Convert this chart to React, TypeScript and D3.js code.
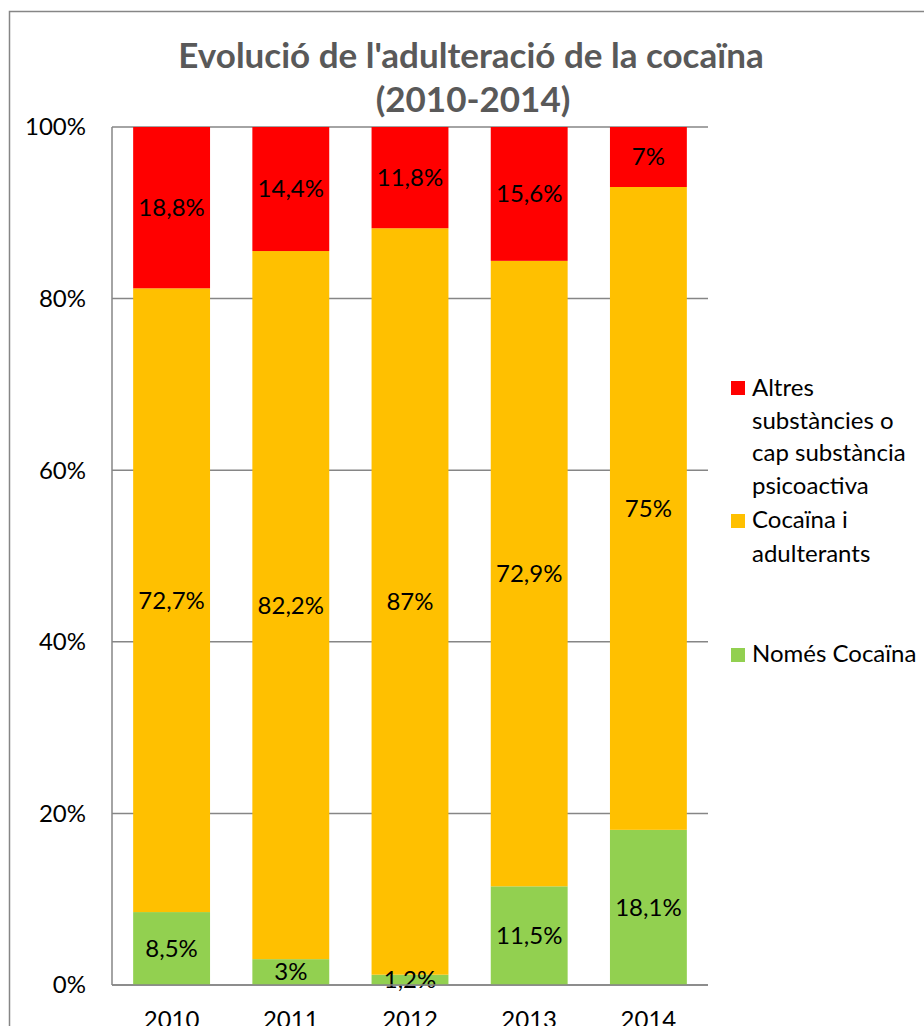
import * as d3 from 'd3';

// chart data
const years = ['2010', '2011', '2012', '2013', '2014'];
const nomesCocaina = [8.5, 3, 1.2, 11.5, 18.1];
const cocainaAdulterants = [72.7, 82.2, 87, 72.9, 75];
const altres = [18.8, 14.4, 11.8, 15.6, 7];
const yTicks = [0, 20, 40, 60, 80, 100];

const seriesNames = ['Només Cocaïna', 'Cocaïna i adulterants', 'Altres substàncies o cap substància psicoactiva'];
const seriesColors = ['#92d050', '#ffc000', '#ff0000'];

const fmt = (v: number) => String(v).replace('.', ',') + '%';

const App = () => {
  const W = 924;
  const H = 1026;
  const margin = { left: 112, top: 127, right: 708, bottom: 985 };
  const font = 'Lato, Calibri, Carlito, sans-serif';
  const fs = 24;

  const x = d3.scaleBand().domain(years).range([margin.left, margin.right]).paddingInner(0.355).paddingOuter(0.1775);
  const y = d3.scaleLinear().domain([0, 100]).range([margin.bottom, margin.top]);

  // percent-stacked, like the original
  const table = years.map((yr, i) => {
    const vals = [nomesCocaina[i], cocainaAdulterants[i], altres[i]];
    const total = d3.sum(vals);
    return { year: yr, n0: (vals[0] / total) * 100, n1: (vals[1] / total) * 100, n2: (vals[2] / total) * 100 };
  });
  const stack = d3.stack<any>().keys(['n0', 'n1', 'n2'])(table);
  const raws = [nomesCocaina, cocainaAdulterants, altres];

  return (
    <svg width={W} height={H} style={{ display: 'block', position: 'absolute', left: 0, top: 0 }}>
      <rect x={0} y={0} width={W} height={H} fill="#fff" />
      <rect x={9.5} y={11.5} width={W + 20} height={H + 20} fill="none" stroke="#868686" strokeWidth={1.5} />
      <text x={471} y={68} textAnchor="middle" fontFamily={font} fontWeight="bold" fontSize={35} fill="#595959">
        Evolució de l'adulteració de la cocaïna
      </text>
      <text x={473} y={112} textAnchor="middle" fontFamily={font} fontWeight="bold" fontSize={35} fill="#595959">
        (2010-2014)
      </text>
      {/* gridlines */}
      {yTicks.map((t) => (
        <line key={t} x1={margin.left} x2={margin.right} y1={y(t)} y2={y(t)} stroke="#868686" strokeWidth={1.5} />
      ))}
      {yTicks.map((t) => (
        <text key={'l' + t} x={86} y={y(t)} dy="0.35em" textAnchor="end" fontFamily={font} fontSize={fs} fill="#000">
          {t}%
        </text>
      ))}
      {/* bars */}
      {stack.map((layer, si) =>
        layer.map((d, i) => (
          <rect key={si + '-' + i} x={x(years[i])} y={y(d[1])} width={x.bandwidth()} height={y(d[0]) - y(d[1])} fill={seriesColors[si]} />
        ))
      )}
      {stack.map((layer, si) =>
        layer.map((d, i) => (
          <text key={'t' + si + '-' + i} x={(x(years[i]) as number) + x.bandwidth() / 2} y={(y(d[0]) + y(d[1])) / 2} dy="0.35em" textAnchor="middle" fontFamily={font} fontSize={fs} fill="#000">
            {fmt(raws[si][i])}
          </text>
        ))
      )}
      <line x1={margin.left} x2={margin.left} y1={margin.top} y2={margin.bottom} stroke="#868686" strokeWidth={1.5} />
      <line x1={margin.left} x2={margin.right} y1={margin.bottom} y2={margin.bottom} stroke="#868686" strokeWidth={1.5} />
      {years.map((yr) => (
        <text key={yr} x={(x(yr) as number) + x.bandwidth() / 2} y={1028} textAnchor="middle" fontFamily={font} fontSize={fs} fill="#000">
          {yr}
        </text>
      ))}
      {/* legend */}
      <rect x={731} y={381} width={14} height={14} fill={seriesColors[2]} />
      {['Altres', 'substàncies o', 'cap substància', 'psicoactiva'].map((s, i) => (
        <text key={s} x={752} y={396 + i * 32.5} fontFamily={font} fontSize={fs} fill="#000">{s}</text>
      ))}
      <rect x={731} y={514} width={14} height={14} fill={seriesColors[1]} />
      {['Cocaïna i', 'adulterants'].map((s, i) => (
        <text key={s} x={752} y={528 + i * 34} fontFamily={font} fontSize={fs} fill="#000">{s}</text>
      ))}
      <rect x={731} y={648} width={14} height={14} fill={seriesColors[0]} />
      <text x={752} y={662} fontFamily={font} fontSize={fs} fill="#000">{seriesNames[0]}</text>
    </svg>
  );
};

export default App;
